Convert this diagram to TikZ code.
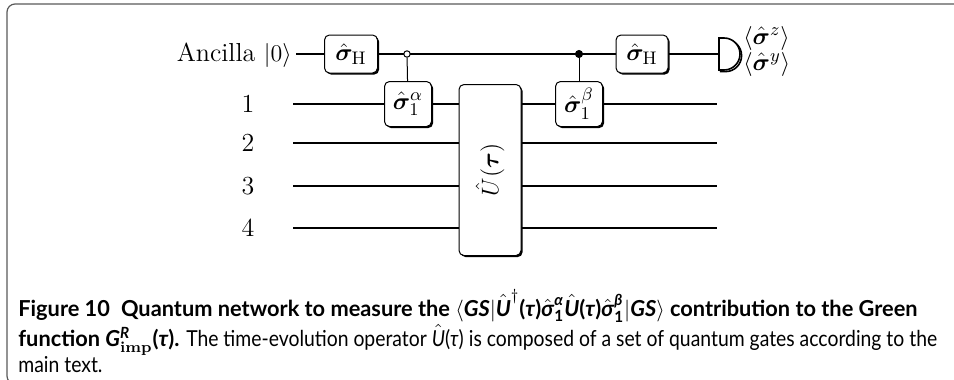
\documentclass[tikz,border=0pt]{standalone}
\usepackage{amsmath,bm}
\usepackage{fontspec}
\usetikzlibrary{shadows}
\newfontfamily\capfontb[FakeStretch=0.99]{Lato}
\newfontfamily\capfontn[FakeStretch=0.88]{Lato}
\tikzset{
  wire/.style={line width=0.75pt},
  gate/.style={draw, line width=0.5pt, rounded corners=2.5pt, fill=white,
    drop shadow={shadow xshift=0.8pt, shadow yshift=-0.8pt, opacity=1, fill=black},
    inner sep=0pt, font=\fontsize{13}{15}\selectfont},
  qlabel/.style={font=\fontsize{13}{15}\selectfont, inner sep=0pt},
  ctrlopen/.style={circle, draw, fill=white, line width=0.5pt, minimum size=3.2pt, inner sep=0pt},
  ctrlfull/.style={circle, draw, fill=black, minimum size=3.6pt, inner sep=0pt},
  caption/.style={font=\fontsize{11}{13}\selectfont, anchor=base west, inner sep=0pt},
  frame/.style={draw=black!65, line width=0.6pt, rounded corners=4pt},
}
\begin{document}
\begin{tikzpicture}[x=0.5pt, y=-0.5pt]
\useasboundingbox (0,0) rectangle (954,380);
\draw[frame] (960,4) -- (7,4) -- (7,384) -- (30,384);

% labels
\node[qlabel, anchor=east] (lanc) at (292,55) {Ancilla $|0\rangle$};
\node[qlabel] (l1) at (248,104) {1};
\node[qlabel] (l2) at (248,143) {2};
\node[qlabel] (l3) at (248,186) {3};
\node[qlabel] (l4) at (248,228) {4};

% wire endpoints
\coordinate (a0) at (296,54);
\coordinate (w1s) at (293,104); \coordinate (w1e) at (717,104);
\coordinate (w2s) at (293,143); \coordinate (w2e) at (717,143);
\coordinate (w3s) at (293,186); \coordinate (w3e) at (717,186);
\coordinate (w4s) at (293,228); \coordinate (w4e) at (717,228);
\coordinate (meter) at (719,54);

\draw[wire] (a0) -- (meter);
\draw[wire] (w1s) -- (w1e);
\draw[wire] (w2s) -- (w2e);
\draw[wire] (w3s) -- (w3e);
\draw[wire] (w4s) -- (w4e);

% gates
\node[gate, minimum width=26.5pt, minimum height=19pt] (h1) at (351,54) {$\hat{\bm\sigma}_{\mathrm{H}}$};
\node[ctrlopen] (c1) at (407,54) {};
\node[gate, minimum width=23.5pt, minimum height=22.5pt] (s1a) at (408,104) {$\hat{\bm\sigma}_1^{\alpha}$};
\draw[wire, line width=0.5pt] (c1) -- (s1a);
\node[gate, minimum width=31pt, minimum height=85.5pt] (u) at (490,170) {\rotatebox{90}{$\hat{U}(\bm\tau)$}};
\node[ctrlfull] (c2) at (579,54) {};
\node[gate, minimum width=23.5pt, minimum height=22.5pt] (s1b) at (579,104) {$\hat{\bm\sigma}_1^{\beta}$};
\draw[wire, line width=0.5pt] (c2) -- (s1b);
\node[gate, minimum width=26pt, minimum height=19pt] (h2) at (642,54) {$\hat{\bm\sigma}_{\mathrm{H}}$};

% meter
\draw[line width=0.8pt, black, xshift=0.8pt, yshift=-0.8pt] (719,38) -- (724,38) arc[start angle=90, end angle=-90, radius=8pt] -- (719,70) -- cycle;
\draw[line width=0.8pt, fill=white] (719,38) -- (724,38) arc[start angle=90, end angle=-90, radius=8pt] -- (719,70) -- cycle;
\node[qlabel, anchor=west] (rz) at (743,38) {$\langle\hat{\bm\sigma}^{z}\rangle$};
\node[qlabel, anchor=west] (ry) at (743,64) {$\langle\hat{\bm\sigma}^{y}\rangle$};

% caption
\node[caption] (cap1) at (18,316) {\capfontb\bfseries Figure 10\enspace Quantum network to measure the $\langle$\textit{GS}$|\hat{\text{\textit{U}}}^{\dagger}$(\textit{τ})$\hat{\text{\textit{σ}}}_{\text{1}}^{\text{\textit{α}}}\hat{\text{\textit{U}}}$(\textit{τ})$\hat{\text{\textit{σ}}}_{\text{1}}^{\text{\textit{β}}}|$\textit{GS}$\rangle$ contribution to the Green};
\node[caption] (cap2) at (18,346) {{\capfontb\bfseries function \textit{G}$^{\text{\textit{R}}}_{\text{\rmfamily imp}}$(\textit{τ}).}\capfontn{} The time-evolution operator $\hat{\text{\textit{U}}}$(\textit{τ}) is composed of a set of quantum gates according to the};
\node[caption] (cap3) at (18,372) {\capfontn main text.};
\end{tikzpicture}
\end{document}
